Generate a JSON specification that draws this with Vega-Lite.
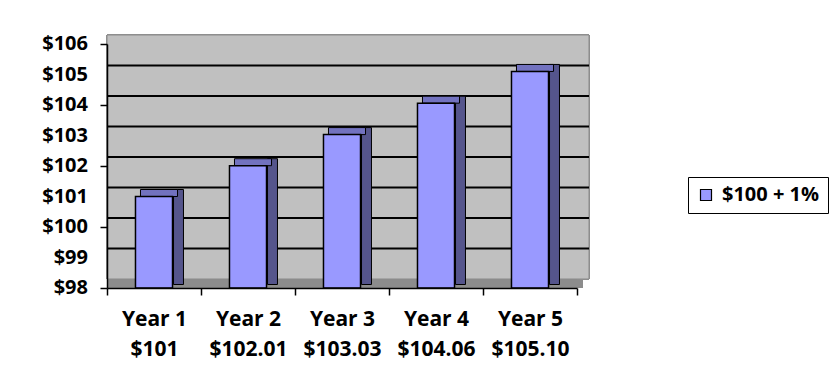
{
  "$schema": "https://vega.github.io/schema/vega-lite/v6.json",
  "width": 470,
  "height": 244,
  "autosize": {"type": "none"},
  "padding": {"left": 107, "top": 44, "right": 262, "bottom": 102},
  "background": "white",
  "view": {"fill": "#c0c0c0", "stroke": null},
  "datasets": {
    "bars": [
      {"label": "Year 1|$101", "value": 101},
      {"label": "Year 2|$102.01", "value": 102.01},
      {"label": "Year 3|$103.03", "value": 103.03},
      {"label": "Year 4|$104.06", "value": 104.06},
      {"label": "Year 5|$105.10", "value": 105.10}
    ],
    "grid": [
      {"level": 99}, {"level": 100}, {"level": 101}, {"level": 102},
      {"level": 103}, {"level": 104}, {"level": 105}
    ],
    "ylabels": [
      {"level": 98}, {"level": 99}, {"level": 100}, {"level": 101}, {"level": 102},
      {"level": 103}, {"level": 104}, {"level": 105}, {"level": 106}
    ]
  },
  "config": {
    "font": "Open Sans",
    "axis": {"labelFont": "Open Sans", "labelFontWeight": "bold", "labelFontSize": 21, "labelColor": "black", "domainColor": "black", "tickColor": "black", "grid": false},
    "legend": {"labelFont": "Open Sans", "labelFontWeight": "bold"}
  },
  "layer": [
    {
      "data": {"name": "bars"},
      "mark": {"type": "bar", "stroke": "black", "strokeWidth": 1.5, "width": {"band": 0.394}, "opacity": 1},
      "encoding": {
        "x": {
          "field": "label", "type": "nominal", "sort": null,
          "scale": {"paddingInner": 0, "paddingOuter": 0},
          "axis": {
            "title": null, "labelAngle": 0, "tickBand": "extent", "tickSize": 7, "tickWidth": 1.5, "domainWidth": 1.5,
            "labelExpr": "isValid(datum.value) ? split(datum.value, '|') : ''", "labelLineHeight": 30, "labelPadding": 13, "labelBaseline": "top", "zindex": 1
          }
        },
        "y": {
          "field": "value", "type": "quantitative",
          "scale": {"domain": [98, 106], "zero": false, "nice": false},
          "axis": {
            "title": null, "values": [98, 99, 100, 101, 102, 103, 104, 105, 106], "tickCount": 8, "labels": false,
            "tickSize": 7, "tickWidth": 1.5, "domainWidth": 1.5, "zindex": 1
          }
        },
        "y2": {"datum": 98},
        "color": {
          "datum": "$100 + 1%",
          "type": "nominal",
          "scale": {"range": ["#9999ff"]},
          "legend": {
            "title": null, "orient": "none", "legendX": 581, "legendY": 133,
            "strokeColor": "black", "fillColor": "white", "padding": 8,
            "symbolType": "square", "symbolSize": 121, "symbolStrokeColor": "black", "symbolStrokeWidth": 1.2, "symbolOpacity": 1,
            "labelFontSize": 20, "labelColor": "black", "labelOffset": 6, "labelLimit": 300
          }
        }
      }
    },
    {
      "data": {"name": "bars"},
      "mark": {"type": "rect", "fill": "#c0c0c0", "stroke": "#8a8a8a", "strokeWidth": 1, "xOffset": 12, "yOffset": -9, "x2Offset": 12, "y2Offset": -9},
      "encoding": {
        "y": {"datum": 98, "type": "quantitative"},
        "y2": {"datum": 106}
      }
    },
    {
      "data": {"name": "bars"},
      "mark": {"type": "rule", "color": "#8c8c8c", "strokeWidth": 8, "xOffset": 6, "yOffset": -4, "y2Offset": -4, "x2Offset": 6},
      "encoding": {
        "y": {"datum": 98, "type": "quantitative"}
      }
    },
    {
      "data": {"name": "grid"},
      "mark": {"type": "rule", "color": "black", "strokeWidth": 2, "xOffset": 12, "x2Offset": 12, "yOffset": -9, "y2Offset": -9},
      "encoding": {
        "y": {"field": "level", "type": "quantitative"}
      }
    },
    {
      "data": {"name": "bars"},
      "mark": {"type": "bar", "fill": "#55558c", "stroke": "black", "strokeWidth": 1, "width": {"band": 0.106}, "xOffset": 24.5, "yOffset": -7, "y2Offset": -3.5},
      "encoding": {
        "x": {"field": "label", "type": "nominal", "sort": null},
        "y": {"field": "value", "type": "quantitative"},
        "y2": {"datum": 98}
      }
    },
    {
      "data": {"name": "bars"},
      "mark": {"type": "bar", "fill": "#7272bf", "stroke": "black", "strokeWidth": 1, "width": {"band": 0.394}, "xOffset": 5, "yOffset": -7, "y2Offset": 0},
      "encoding": {
        "x": {"field": "label", "type": "nominal", "sort": null},
        "y": {"field": "value", "type": "quantitative"},
        "y2": {"field": "value"}
      }
    },
    {
      "data": {"name": "bars"},
      "mark": {"type": "bar", "fill": "#9999ff", "stroke": "black", "strokeWidth": 1.5, "width": {"band": 0.394}},
      "encoding": {
        "x": {"field": "label", "type": "nominal", "sort": null},
        "y": {"field": "value", "type": "quantitative"},
        "y2": {"datum": 98}
      }
    },
    {
      "data": {"name": "ylabels"},
      "mark": {"type": "text", "align": "right", "baseline": "middle", "dx": -19, "font": "Open Sans", "fontWeight": "bold", "fontSize": 20, "color": "black"},
      "encoding": {
        "x": {"datum": "Year 1|$101", "type": "nominal", "bandPosition": 0},
        "y": {"field": "level", "type": "quantitative"},
        "text": {"field": "level", "type": "quantitative", "format": "$.0f"}
      }
    }
  ]
}
